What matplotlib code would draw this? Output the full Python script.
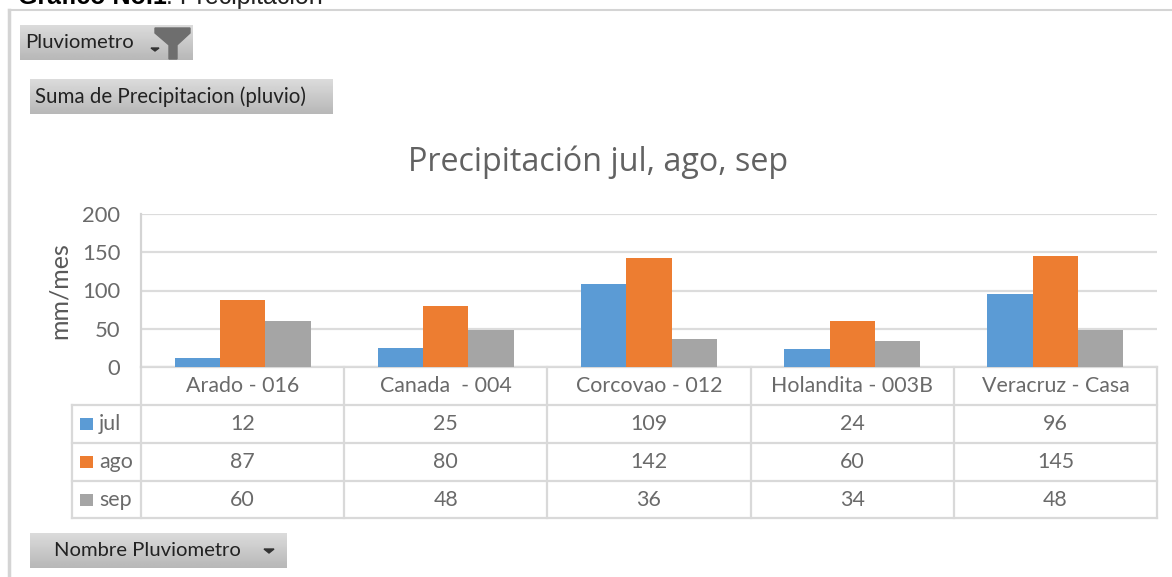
import numpy as np
import matplotlib
matplotlib.use("Agg")
import matplotlib.pyplot as plt
from matplotlib.patches import Polygon

estaciones = ['Arado - 016', 'Canada  - 004', 'Corcovao - 012', 'Holandita - 003B', 'Veracruz - Casa']
meses = ['jul', 'ago', 'sep']
jul = [12, 25, 109, 24, 96]
ago = [87, 80, 142, 60, 145]
sep = [60, 48, 36, 34, 48]
colores = ['#5B9BD5', '#ED7D31', '#A5A5A5']
yticks = [0, 50, 100, 150, 200]

W, H = 1172, 577
plt.rcParams['font.family'] = ['Lato', 'DejaVu Sans']
fig = plt.figure(figsize=(W / 100, H / 100), dpi=100)

# capa de fondo en pixeles de la imagen
bg = fig.add_axes([0, 0, 1, 1])
bg.set_xlim(0, W)
bg.set_ylim(H, 0)
bg.axis('off')

# el encabezado esta cortado arriba, igual que en la captura
bg.text(18, 4, 'Gráfico No.1', fontsize=18, fontweight='bold', family='Liberation Sans',
        ha='left', va='baseline', color='black')
bg.text(166, 4, ': Precipitación', fontsize=18, family='Liberation Sans',
        ha='left', va='baseline', color='#222222')
bg.plot([9, W], [10, 10], color='#d4d4d4', lw=1.5, zorder=4)
bg.plot([9, 9], [10, H], color='#d4d4d4', lw=2.5)

grad = np.linspace(0.86, 0.72, 40).reshape(-1, 1)

def boton(x0, x1, y0, y1, txt, tx, tam):
    bg.imshow(grad, extent=(x0, x1, y1, y0), cmap='gray', vmin=0, vmax=1, aspect='auto', zorder=1)
    bg.text(tx, (y0 + y1) / 2, txt, fontsize=tam, color='#222222', ha='left', va='center', zorder=2)

boton(20, 193, 25, 60, 'Pluviometro', 25, 14.6)
boton(30, 333, 79, 114, 'Suma de Precipitacion (pluvio)', 35, 14.8)
boton(30, 287, 533, 568, 'Nombre Pluviometro', 54, 14.6)
bg.set_xlim(0, W)
bg.set_ylim(H, 0)

# embudo del filtro y flechas
bg.add_patch(Polygon([(155, 28), (190, 28), (190, 33), (177, 45), (177, 59), (169, 59), (169, 45), (155, 33)],
                     closed=True, color='#6e6e6e', zorder=3))
bg.add_patch(Polygon([(151, 48), (159, 48), (155, 51)], closed=True, color='#333333', zorder=3))
bg.add_patch(Polygon([(264, 549), (274, 549), (269, 553)], closed=True, color='#333333', zorder=3))

bg.text(598, 171, 'Precipitación jul, ago, sep', fontsize=23.2, color='#626262', ha='center', va='baseline',
        family=['Open Sans', 'DejaVu Sans'])

# grafico de barras
x_izq, x_der, y_arr, y_aba = 141, 1157, 214, 367
ax = fig.add_axes([x_izq / W, 1 - y_aba / H, (x_der - x_izq) / W, (y_aba - y_arr) / H])
ax.patch.set_alpha(0)
x = np.arange(len(estaciones))
ancho = 0.223
for i, serie in enumerate([jul, ago, sep]):
    ax.bar(x + (i - 1) * ancho, serie, ancho, color=colores[i], zorder=3)
ax.set_xlim(-0.5, 4.5)
ax.set_ylim(0, 200)
ax.set_yticks(yticks)
ax.tick_params(axis='y', length=0, labelsize=15.8, labelcolor='#6a6a6a', pad=15)
ax.set_xticks([])
ax.grid(axis='y', color='#dcdcdc', lw=1.6, zorder=0)
for s in ['top', 'right', 'bottom']:
    ax.spines[s].set_visible(False)
ax.spines['left'].set_color('#d4d4d4')
ax.spines['left'].set_linewidth(1.6)
ax.set_ylabel('mm/mes', fontsize=18, color='#595959', labelpad=8)

# tabla de datos bajo el eje
cols = np.linspace(x_izq, x_der, len(estaciones) + 1)
filas = [367, 405, 443, 481, 518]
lin = dict(color='#d9d9d9', lw=1.6, zorder=2)
for xc in cols:
    bg.plot([xc, xc], [filas[0], filas[-1]], **lin)
bg.plot([72, 72], [filas[1], filas[-1]], **lin)
bg.plot([x_izq, x_der], [filas[0], filas[0]], **lin)
for yf in filas[1:]:
    bg.plot([72, x_der], [yf, yf], **lin)

for j, nombre in enumerate(estaciones):
    xm = (cols[j] + cols[j + 1]) / 2
    bg.text(xm, (filas[0] + filas[1]) / 2, nombre, fontsize=15.4, color='#6a6a6a', ha='center', va='center')
    for i, serie in enumerate([jul, ago, sep]):
        bg.text(xm, (filas[i + 1] + filas[i + 2]) / 2, str(serie[j]), fontsize=15.4, color='#6a6a6a',
                ha='center', va='center')

for i, mes in enumerate(meses):
    yc = (filas[i + 1] + filas[i + 2]) / 2
    bg.fill_between([80, 93], yc - 6, yc + 6, color=colores[i], lw=0, zorder=3)
    bg.text(99, yc, mes, fontsize=15.4, color='#6a6a6a', ha='left', va='center')

fig.savefig('out.png', dpi=100)
